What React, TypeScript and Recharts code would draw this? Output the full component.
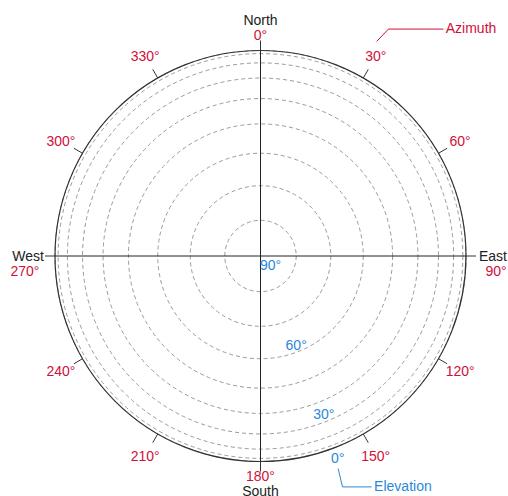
import { RadarChart, Radar, PolarGrid, PolarAngleAxis, PolarRadiusAxis } from "recharts";

// azimuth ticks, clockwise from north
const AZIMUTHS = [0, 30, 60, 90, 120, 150, 180, 210, 240, 270, 300, 330];
const CARDINALS = [0, 90, 180, 270];
const CARDINAL_NAMES: Record<number, string> = { 0: "North", 90: "East", 180: "South", 270: "West" };

// elevation rings (90 = zenith at centre, 0 = horizon)
const RING_ELEVATIONS = [90, 80, 70, 60, 50, 40, 30, 20, 10, 0];
const LABELED_ELEVATIONS = [90, 60, 30, 0];

const azData = AZIMUTHS.map((az) => ({ az }));

const W = 508;
const H = 496;
const CX = 260.5;
const CY = 256;
const R = 205.5;
const RED = "#d0103a";
const BLUE = "#2a88d8";
const INK = "#222";
const FONT = '"Liberation Sans", Arial, sans-serif';

// orthographic sky projection: radius = cos(elevation)
const toRadius = (elev: number) => Math.cos((elev * Math.PI) / 180);

function AzimuthTick(props: any) {
  const { x, y, payload } = props;
  const az = Number(payload.value);
  const a = (-payload.coordinate * Math.PI) / 180;
  const ux = Math.cos(a);
  const uy = Math.sin(a);
  const txt = { fontSize: 14, fontFamily: FONT, textAnchor: "middle" as const, dy: "0.35em" };

  if (az === 0 || az === 180) {
    return (
      <g>
        <text x={x + ux * 5} y={y + uy * 5} fill={RED} {...txt}>{`${az}°`}</text>
        <text x={x + ux * 20} y={y + uy * 20} fill={INK} {...txt}>{CARDINAL_NAMES[az]}</text>
      </g>
    );
  }
  if (az === 90 || az === 270) {
    return (
      <g>
        <text x={x + ux * 17} y={y} fill={INK} {...txt}>{CARDINAL_NAMES[az]}</text>
        <text x={x + ux * 20} y={y + 15.5} fill={RED} {...txt}>{`${az}°`}</text>
      </g>
    );
  }
  const lx = x + ux * 15;
  const ly = y + uy * 15;
  return (
    <g>
      <text x={lx} y={ly} fill={RED} {...txt}>{`${az}°`}</text>
      {az === 30 && (
        <g>
          <polyline
            points={`${lx + 1},${ly - 15} ${lx + 12.7},${ly - 27.3} ${lx + 67.7},${ly - 27.3}`}
            fill="none"
            stroke={RED}
            strokeWidth={1}
          />
          <text x={lx + 70} y={ly - 28} fill={RED} fontSize={14} fontFamily={FONT} dy="0.35em">
            Azimuth
          </text>
        </g>
      )}
    </g>
  );
}

function ElevationTick(props: any) {
  const { x, y, payload } = props;
  const elev = LABELED_ELEVATIONS.find((e) => Math.abs(toRadius(e) - payload.value) < 1e-6);
  if (elev === undefined) return <g />;
  let dx = -2;
  let dy = -7;
  if (elev === 90) {
    dx = 10;
    dy = 9;
  } else if (elev === 0) {
    dx = 2;
    dy = 11;
  }
  const lx = x + dx;
  const ly = y + dy;
  return (
    <g>
      <text x={lx} y={ly} fill={BLUE} fontSize={14} fontFamily={FONT} textAnchor="middle" dy="0.35em">
        {`${elev}°`}
      </text>
      {elev === 0 && (
        <g>
          <polyline
            points={`${lx + 0.3},${ly + 10.3} ${lx + 4.7},${ly + 28.7} ${lx + 33.7},${ly + 28.7}`}
            fill="none"
            stroke={BLUE}
            strokeWidth={1}
          />
          <text x={lx + 36.3} y={ly + 27.7} fill={BLUE} fontSize={14} fontFamily={FONT} dy="0.35em">
            Elevation
          </text>
        </g>
      )}
    </g>
  );
}

export default function App() {
  return (
    <div style={{ position: "absolute", left: 0, top: 0, width: W, height: H, background: "#fff" }}>
      <RadarChart
        width={W}
        height={H}
        cx={CX}
        cy={CY}
        outerRadius={R}
        data={azData}
        startAngle={90}
        endAngle={-270}
        margin={{ top: 0, right: 0, bottom: 0, left: 0 }}
      >
        <PolarGrid
          gridType="circle"
          radialLines={false}
          polarRadius={RING_ELEVATIONS.map((e) => R * toRadius(e))}
          stroke="#9a9a9a"
          strokeDasharray="4 3"
        />
        <PolarGrid
          gridType="circle"
          polarRadius={[0]}
          polarAngles={CARDINALS.map((az) => 90 - az)}
          stroke={INK}
          strokeDasharray="0"
        />
        <PolarAngleAxis
          dataKey="az"
          axisLineType="circle"
          axisLine={{ stroke: "#333", strokeWidth: 1.2 }}
          tickLine={{ stroke: "#333" }}
          tickSize={10}
          tick={AzimuthTick}
        />
        <PolarRadiusAxis
          type="number"
          domain={[0, 1]}
          allowDataOverflow
          angle={-68.5}
          ticks={RING_ELEVATIONS.map(toRadius) as any}
          axisLine={false}
          tickLine={false}
          tick={ElevationTick}
        />
        <Radar dataKey={() => 0} stroke="none" fill="none" dot={false} isAnimationActive={false} />
      </RadarChart>
    </div>
  );
}
